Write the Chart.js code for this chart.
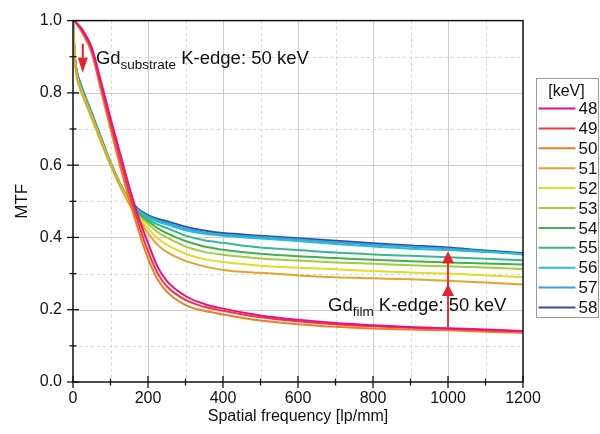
<!DOCTYPE html>
<html>
<head>
<meta charset="utf-8">
<script src="https://cdn.jsdelivr.net/npm/chart.js@4"></script>
<style>
  html, body { margin: 0; padding: 0; background: #fff; }
  #chart { display: block; }
</style>
</head>
<body>
<canvas id="chart" width="600" height="434"></canvas>
<script>
const freqs = [0, 5, 10, 25, 50, 75, 100, 125, 150, 175, 200, 225, 250, 300, 350, 400, 500, 600, 700, 800, 900, 1000, 1100, 1200];

const energies = ["48", "49", "50", "51", "52", "53", "54", "55", "56", "57", "58"];
const colors = ["#e8108a", "#f03a3a", "#f47b22", "#e8a22a", "#e3dc22", "#a6cc3c", "#3cb44a", "#36b98c", "#22bfd2", "#3c9de0", "#2f4fa6"];

const mtf48 = [1.0, 0.998, 0.993, 0.975, 0.925, 0.83, 0.73, 0.635, 0.54, 0.455, 0.385, 0.32, 0.28, 0.238, 0.216, 0.203, 0.184, 0.172, 0.163, 0.157, 0.152, 0.149, 0.145, 0.141];
const mtf49 = [1.0, 0.998, 0.992, 0.97, 0.918, 0.818, 0.716, 0.618, 0.522, 0.437, 0.362, 0.302, 0.265, 0.227, 0.208, 0.197, 0.179, 0.168, 0.16, 0.154, 0.15, 0.147, 0.143, 0.14];
const mtf50 = [1.0, 0.997, 0.99, 0.965, 0.91, 0.805, 0.7, 0.6, 0.505, 0.418, 0.342, 0.285, 0.25, 0.213, 0.197, 0.187, 0.17, 0.16, 0.153, 0.148, 0.145, 0.143, 0.139, 0.136];
const mtf51 = [1.0, 0.89, 0.845, 0.795, 0.73, 0.663, 0.6, 0.543, 0.492, 0.45, 0.412, 0.38, 0.36, 0.335, 0.32, 0.31, 0.302, 0.295, 0.29, 0.287, 0.284, 0.28, 0.275, 0.27];
const mtf52 = [1.0, 0.892, 0.848, 0.798, 0.733, 0.666, 0.602, 0.545, 0.496, 0.455, 0.425, 0.398, 0.38, 0.355, 0.34, 0.332, 0.322, 0.316, 0.312, 0.307, 0.303, 0.3, 0.295, 0.29];
const mtf53 = [1.0, 0.893, 0.85, 0.8, 0.735, 0.668, 0.604, 0.547, 0.498, 0.46, 0.438, 0.415, 0.4, 0.375, 0.36, 0.352, 0.342, 0.336, 0.331, 0.327, 0.323, 0.32, 0.317, 0.313];
const mtf54 = [1.0, 0.895, 0.853, 0.803, 0.738, 0.67, 0.606, 0.549, 0.5, 0.464, 0.445, 0.426, 0.412, 0.39, 0.375, 0.366, 0.355, 0.348, 0.343, 0.338, 0.334, 0.331, 0.328, 0.325];
const mtf55 = [1.0, 0.895, 0.855, 0.805, 0.74, 0.672, 0.608, 0.551, 0.502, 0.468, 0.45, 0.436, 0.426, 0.405, 0.392, 0.385, 0.372, 0.365, 0.358, 0.353, 0.349, 0.345, 0.341, 0.337];
const mtf56 = [1.0, 0.9, 0.858, 0.808, 0.742, 0.673, 0.607, 0.55, 0.503, 0.472, 0.455, 0.444, 0.436, 0.42, 0.41, 0.405, 0.397, 0.39, 0.382, 0.375, 0.369, 0.365, 0.36, 0.354];
const mtf57 = [1.0, 0.9, 0.86, 0.81, 0.743, 0.674, 0.607, 0.548, 0.505, 0.475, 0.458, 0.448, 0.44, 0.425, 0.414, 0.408, 0.401, 0.394, 0.387, 0.38, 0.374, 0.369, 0.362, 0.353];
const mtf58 = [1.0, 0.9, 0.862, 0.812, 0.745, 0.676, 0.605, 0.545, 0.506, 0.478, 0.462, 0.452, 0.445, 0.43, 0.419, 0.412, 0.405, 0.398, 0.391, 0.384, 0.378, 0.372, 0.364, 0.357];

const series = [mtf48, mtf49, mtf50, mtf51, mtf52, mtf53, mtf54, mtf55, mtf56, mtf57, mtf58];

const xTicks = [0, 200, 400, 600, 800, 1000, 1200];
const yTicks = [0.0, 0.2, 0.4, 0.6, 0.8, 1.0];

const FONT = "'Liberation Sans', Arial, sans-serif";
const RED = "#e8222a";

// tip at (x, tipY); pointing down when down is true
function arrowHead(ctx, x, tipY, down, len, half) {
  const baseY = down ? tipY - len : tipY + len;
  ctx.beginPath();
  ctx.moveTo(x, tipY);
  ctx.lineTo(x - half, baseY);
  ctx.lineTo(x + half, baseY);
  ctx.closePath();
  ctx.fill();
}

function subText(ctx, x, y, main, sub, rest) {
  ctx.textAlign = "left";
  ctx.textBaseline = "alphabetic";
  ctx.fillStyle = "#111";
  ctx.font = `18.5px ${FONT}`;
  ctx.fillText(main, x, y);
  x += ctx.measureText(main).width;
  ctx.font = `13.5px ${FONT}`;
  ctx.fillText(sub, x, y + 5);
  x += ctx.measureText(sub).width;
  ctx.font = `18.5px ${FONT}`;
  ctx.fillText(rest, x, y);
}

const decorPlugin = {
  id: "decor",
  beforeDatasetsDraw(chart) {
    const { ctx, chartArea: a, scales: { x, y } } = chart;
    ctx.save();
    ctx.lineWidth = 1;
    for (let v = 100; v < 1200; v += 100) {
      const px = Math.round(x.getPixelForValue(v)) + 0.5;
      const major = v % 200 === 0;
      ctx.strokeStyle = major ? "#cccccc" : "#d6d6d6";
      ctx.setLineDash(major ? [] : [3, 3]);
      ctx.beginPath();
      ctx.moveTo(px, a.top);
      ctx.lineTo(px, a.bottom);
      ctx.stroke();
    }
    for (let i = 1; i < 10; i++) {
      const py = Math.round(y.getPixelForValue(i / 10)) + 0.5;
      const major = i % 2 === 0;
      ctx.strokeStyle = major ? "#cccccc" : "#d6d6d6";
      ctx.setLineDash(major ? [] : [3, 3]);
      ctx.beginPath();
      ctx.moveTo(a.left, py);
      ctx.lineTo(a.right, py);
      ctx.stroke();
    }
    ctx.restore();
  },
  afterDatasetsDraw(chart) {
    const { ctx, chartArea: a, scales: { x, y } } = chart;
    ctx.save();

    // frame
    ctx.strokeStyle = "#111";
    ctx.lineWidth = 1.5;
    ctx.strokeRect(a.left, a.top, a.right - a.left, a.bottom - a.top);

    // crossing ticks
    ctx.lineWidth = 1.3;
    for (let v = 0; v <= 1200; v += 100) {
      const px = x.getPixelForValue(v);
      const h = v % 200 === 0 ? 6 : 3.5;
      ctx.beginPath();
      ctx.moveTo(px, a.bottom - h);
      ctx.lineTo(px, a.bottom + h);
      ctx.stroke();
    }
    for (let i = 0; i <= 10; i++) {
      const py = y.getPixelForValue(i / 10);
      const h = i % 2 === 0 ? 6 : 3.5;
      ctx.beginPath();
      ctx.moveTo(a.left - h, py);
      ctx.lineTo(a.left + h, py);
      ctx.stroke();
    }

    // substrate arrow (pointing down)
    ctx.strokeStyle = RED;
    ctx.fillStyle = RED;
    ctx.lineWidth = 2;
    const ax = x.getPixelForValue(26);
    const aTop = y.getPixelForValue(0.936);
    const aTip = y.getPixelForValue(0.856);
    ctx.beginPath();
    ctx.moveTo(ax, aTop);
    ctx.lineTo(ax, aTip - 10);
    ctx.stroke();
    arrowHead(ctx, ax, aTip, true, 15, 5);

    // film arrows (pointing up)
    const fx = x.getPixelForValue(1000);
    const fBottom = y.getPixelForValue(0.152);
    const fTip1 = y.getPixelForValue(0.271);
    const fTip2 = y.getPixelForValue(0.362);
    ctx.lineWidth = 1.8;
    ctx.beginPath();
    ctx.moveTo(fx, fBottom);
    ctx.lineTo(fx, fTip2 + 8);
    ctx.stroke();
    arrowHead(ctx, fx, fTip1, false, 12, 6);
    arrowHead(ctx, fx, fTip2, false, 12, 6);

    subText(ctx, x.getPixelForValue(61), y.getPixelForValue(0.881), "Gd", "substrate", " K-edge: 50 keV");
    subText(ctx, x.getPixelForValue(680), y.getPixelForValue(0.196), "Gd", "film", " K-edge: 50 keV");

    // legend
    const lx = 536.5, ly = 78.5, lw = 62, lh = 239;
    ctx.fillStyle = "#fff";
    ctx.fillRect(lx, ly, lw, lh);
    ctx.strokeStyle = "#9a9a9a";
    ctx.lineWidth = 1;
    ctx.strokeRect(lx, ly, lw, lh);
    ctx.fillStyle = "#111";
    ctx.font = `16px ${FONT}`;
    ctx.textAlign = "center";
    ctx.textBaseline = "middle";
    ctx.fillText("[keV]", lx + lw / 2 - 1, ly + 13);
    ctx.textAlign = "left";
    ctx.font = `17px ${FONT}`;
    energies.forEach((e, i) => {
      const yy = ly + 30 + i * 19.9;
      ctx.strokeStyle = colors[i];
      ctx.lineWidth = 2;
      ctx.beginPath();
      ctx.moveTo(lx + 2, yy);
      ctx.lineTo(lx + 39, yy);
      ctx.stroke();
      ctx.fillStyle = "#111";
      ctx.fillText(e, lx + 42, yy + 1);
    });

    ctx.restore();
  }
};

const datasets = series.map((vals, i) => ({
  label: energies[i],
  data: freqs.map((f, j) => ({ x: f, y: vals[j] })),
  borderColor: colors[i],
  borderWidth: 2,
  pointRadius: 0,
  cubicInterpolationMode: "monotone",
  fill: false
}));

new Chart(document.getElementById("chart"), {
  type: "line",
  data: { datasets },
  options: {
    responsive: false,
    animation: false,
    layout: { padding: { left: 0, right: 77, top: 20, bottom: 0 } },
    plugins: { legend: { display: false }, tooltip: { enabled: false } },
    scales: {
      x: {
        type: "linear",
        min: 0,
        max: 1200,
        afterFit(scale) { scale.height = 52; },
        afterBuildTicks(scale) { scale.ticks = xTicks.map((v) => ({ value: v })); },
        grid: { display: false, drawTicks: false },
        border: { display: false },
        ticks: {
          color: "#111",
          padding: 7,
          maxRotation: 0,
          font: { family: FONT, size: 16 },
          callback: (v) => String(v)
        },
        title: {
          display: true,
          text: "Spatial frequency [lp/mm]",
          color: "#111",
          font: { family: FONT, size: 16 },
          padding: { top: 0, bottom: 8 }
        }
      },
      y: {
        min: 0,
        max: 1,
        afterFit(scale) { scale.width = 73; },
        afterBuildTicks(scale) { scale.ticks = yTicks.map((v) => ({ value: v })); },
        grid: { display: false, drawTicks: false },
        border: { display: false },
        ticks: {
          color: "#111",
          padding: 11,
          font: { family: FONT, size: 16 },
          callback: (v) => Number(v).toFixed(1)
        },
        title: {
          display: true,
          text: "MTF",
          color: "#111",
          font: { family: FONT, size: 17 },
          padding: { top: 12, bottom: 0 }
        }
      }
    }
  },
  plugins: [decorPlugin]
});
</script>
</body>
</html>
